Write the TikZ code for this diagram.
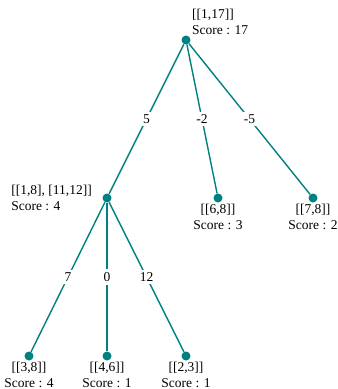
\documentclass[tikz,border=0pt]{standalone}
\usepackage{fontspec}
\setmainfont{Liberation Serif}
\definecolor{edgecol}{HTML}{008080}
\begin{document}
\begin{tikzpicture}[x=1pt,y=-1pt,
  dot/.style={circle,fill=edgecol,draw=none,minimum size=9pt,inner sep=0pt},
  edge/.style={draw=edgecol,line width=1.4pt},
  elab/.style={fill=white,inner sep=3pt,font=\fontsize{13.5}{16}\selectfont},
  lab/.style={inner sep=0pt,align=left,font=\fontsize{13.5}{16}\selectfont},
  leaflab/.style={inner sep=0pt,align=center,font=\fontsize{13.5}{16}\selectfont,anchor=north}]
\useasboundingbox (0,0) rectangle (338,389);
\node[dot] (r) at (186,40) {};
\node[dot] (a) at (107,198) {};
\node[dot] (b) at (218,198) {};
\node[dot] (c) at (313,198) {};
\node[dot] (d) at (29,356) {};
\node[dot] (e) at (107,356) {};
\node[dot] (f) at (186,356) {};
\draw[edge] (r) -- node[elab] (l1) {5} (a);
\draw[edge] (r) -- node[elab] (l2) {-2} (b);
\draw[edge] (r) -- node[elab] (l3) {-5} (c);
\draw[edge] (a) -- node[elab] (l4) {7} (d);
\draw[edge] (a) -- node[elab] (l5) {0} (e);
\draw[edge] (a) -- node[elab] (l6) {12} (f);
\node[lab,anchor=north west] (tr) at (192,9) {[[1,17]]\\Score : 17};
\node[lab,anchor=north east] (ta) at (92,185) {[[1,8], [11,12]]\\Score : 4};
\node[leaflab] (tb) at (218,204) {[[6,8]]\\Score : 3};
\node[leaflab] (tc) at (313,204) {[[7,8]]\\Score : 2};
\node[leaflab] (td) at (29,362) {[[3,8]]\\Score : 4};
\node[leaflab] (te) at (107,362) {[[4,6]]\\Score : 1};
\node[leaflab] (tf) at (186,362) {[[2,3]]\\Score : 1};
\end{tikzpicture}
\end{document}
